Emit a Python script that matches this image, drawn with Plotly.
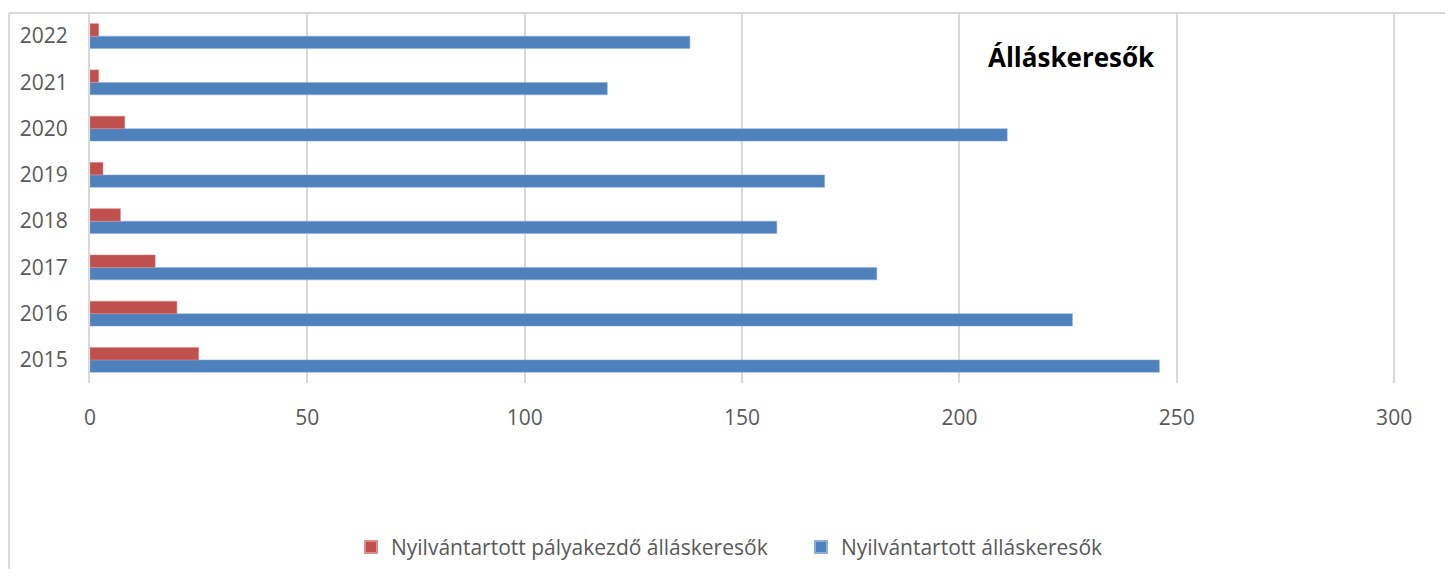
import plotly.graph_objects as go

# ==========================================================
# DATA
# ==========================================================
years = ["2015", "2016", "2017", "2018", "2019", "2020", "2021", "2022"]
registered = [246, 226, 181, 158, 169, 211, 119, 138]
career_starters = [25, 20, 15, 7, 3, 8, 2, 2]

RED = "#C0504D"
BLUE = "#4F81BD"
GRID = "#D9D9D9"
FONT = "Open Sans"

fig = go.Figure()

# blue first -> lower bar in each group
fig.add_trace(go.Bar(
    y=years, x=registered, orientation="h",
    name="Nyilvántartott álláskeresők",
    marker=dict(color=BLUE, line=dict(color="#8EAED8", width=0.5)),
    legend="legend2",
))
fig.add_trace(go.Bar(
    y=years, x=career_starters, orientation="h",
    name="Nyilvántartott pályakezdő álláskeresők",
    marker=dict(color=RED, line=dict(color="#DC8E8C", width=0.5)),
    legend="legend",
))

# chart border (left + top), Excel style
fig.add_shape(type="line", xref="paper", yref="paper",
              x0=-0.0597, x1=-0.0597, y0=1, y1=-1.0,
              line=dict(color=GRID, width=2))
fig.add_shape(type="line", xref="paper", yref="paper",
              x0=-0.0597, x1=1.02, y0=1, y1=1,
              line=dict(color=GRID, width=2))

fig.add_annotation(
    text="<b>Álláskeresők</b>", xref="paper", yref="paper",
    x=0.724, y=0.881, xanchor="center", yanchor="middle", showarrow=False,
    font=dict(family=FONT, size=26, color="#000000"),
)

legend_style = dict(
    orientation="h", xanchor="left", y=-0.444, yanchor="middle",
    font=dict(family=FONT, size=21, color="#595959"),
    itemwidth=30, itemsizing="constant", bgcolor="rgba(0,0,0,0)",
)

# page body has an 8px margin -> plot placed so it lands where the reference has it
fig.update_layout(
    width=1437, height=561,
    margin=dict(l=82, r=0, t=5, b=186),
    paper_bgcolor="white", plot_bgcolor="white",
    barmode="group", bargap=0.46, bargroupgap=0,
    font=dict(family=FONT, size=21, color="#595959"),
    showlegend=True,
    legend=dict(x=0.1926, **legend_style),
    legend2=dict(x=0.5247, **legend_style),
    xaxis=dict(
        range=[0, 311.7], tickvals=[0, 50, 100, 150, 200, 250, 300],
        showgrid=True, gridcolor=GRID, gridwidth=2,
        zeroline=False, showline=False, ticks="",
        ticklabelstandoff=20,
    ),
    yaxis=dict(
        range=[-0.5, 7.5], type="category",
        showgrid=False, zeroline=False,
        showline=True, linecolor=GRID, linewidth=2,
        ticks="", ticklabelstandoff=16,
    ),
)

fig.write_html("out.html")
